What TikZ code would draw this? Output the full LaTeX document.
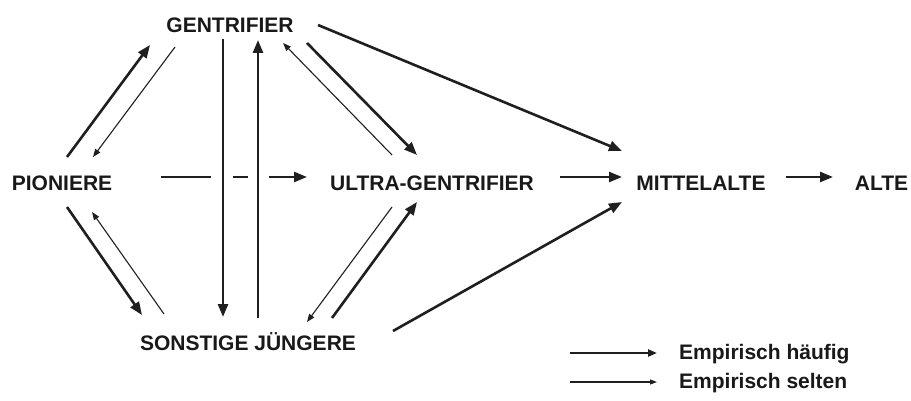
\documentclass[tikz,border=0pt]{standalone}
\usepackage{fontspec}
\setmainfont{Liberation Sans}
\usetikzlibrary{arrows.meta}

\begin{document}
\begin{tikzpicture}[x=1pt,y=-1pt,
  label/.style={inner sep=0pt,anchor=base,font=\fontsize{21}{25}\selectfont\bfseries,text=black!90},
  legendtext/.style={inner sep=0pt,anchor=base west,font=\fontsize{21}{25}\selectfont\bfseries,text=black!90},
  often/.style={draw=black!88,line width=2.6pt,-{Triangle[length=13pt,width=10pt]}},
  rare/.style={draw=black!88,line width=1.1pt,-{Triangle[length=8pt,width=6pt]}},
  oftenkey/.style={draw=black!88,line width=2.2pt,-{Triangle[length=9pt,width=7pt]}},
  rarekey/.style={draw=black!88,line width=1.1pt,-{Triangle[length=7pt,width=5pt]}}]

\useasboundingbox[fill=white] (0,0) rectangle (911,401);

% groups
\node[label] (gen)    at (230,33)    {GENTRIFIER};
\node[label] (pio)    at (62,190)    {PIONIERE};
\node[label] (ultra)  at (432,191)   {ULTRA-GENTRIFIER};
\node[label] (mittel) at (701,191)   {MITTELALTE};
\node[label] (alte)   at (881.5,191) {ALTE};
\node[label] (sonst)  at (248,350)   {SONSTIGE JÜNGERE};

% transitions between groups
\draw[often] ([shift={(5,-33)}]pio.base)    -- ([shift={(-80,12)}]gen.base);
\draw[rare]  ([shift={(-55,14)}]gen.base)   -- ([shift={(31,-33)}]pio.base);
\draw[often] ([shift={(-7,6)}]gen.base)     -- ([shift={(-25,-33)}]sonst.base);
\draw[often] ([shift={(10,-32)}]sonst.base) -- ([shift={(28,7)}]gen.base);
\draw[rare]  ([shift={(-40,-36)}]ultra.base) -- ([shift={(53,10)}]gen.base);
\draw[often] ([shift={(77,10)}]gen.base)    -- ([shift={(-15,-36)}]ultra.base);
\draw[often] ([shift={(88,-8)}]gen.base)    -- ([shift={(-79,-40)}]mittel.base);

% horizontal line, broken where it crosses the two vertical arrows
\draw[often,line width=2.4pt,dash pattern=on 50pt off 22pt on 15pt off 21pt on 100pt]
  ([shift={(99,-13)}]pio.base) -- ([shift={(-125,-14)}]ultra.base);

\draw[often] ([shift={(5,17)}]pio.base)     -- ([shift={(-106,-35)}]sonst.base);
\draw[rare]  ([shift={(-84,-36)}]sonst.base) -- ([shift={(30,22)}]pio.base);
\draw[rare]  ([shift={(-40,16)}]ultra.base) -- ([shift={(59,-28)}]sonst.base);
\draw[often] ([shift={(84,-32)}]sonst.base) -- ([shift={(-15,11)}]ultra.base);
\draw[often] ([shift={(145,-19)}]sonst.base) -- ([shift={(-79,11)}]mittel.base);
\draw[often] ([shift={(128,-14)}]ultra.base) -- ([shift={(-79,-14)}]mittel.base);
\draw[often] ([shift={(85,-14)}]mittel.base) -- ([shift={(-48.5,-14)}]alte.base);

% key
\node[legendtext] (keyoften) at (679,359) {Empirisch häufig};
\node[legendtext] (keyrare)  at (679,388) {Empirisch selten};
\draw[oftenkey] ([shift={(-109,-6)}]keyoften.base west) -- ([shift={(-22,-6)}]keyoften.base west);
\draw[rarekey]  ([shift={(-109,-6)}]keyrare.base west)  -- ([shift={(-22,-6)}]keyrare.base west);

\end{tikzpicture}
\end{document}
